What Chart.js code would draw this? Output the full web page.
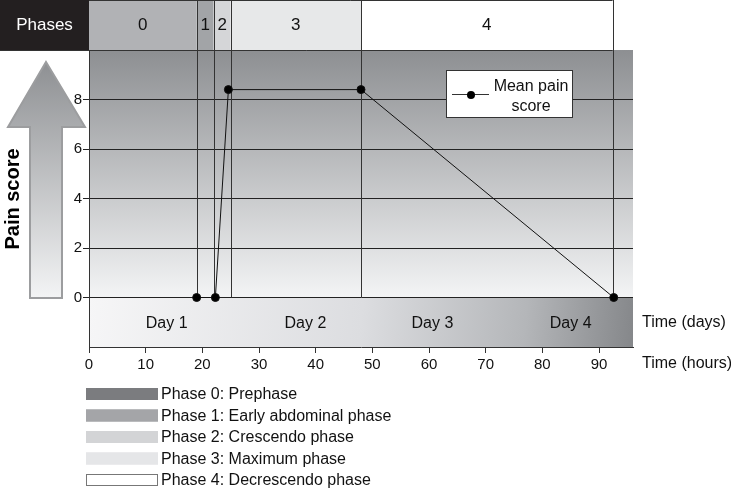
<!DOCTYPE html>
<html>
<head>
<meta charset="utf-8">
<script src="https://cdn.jsdelivr.net/npm/chart.js@4/dist/chart.umd.min.js"></script>
<style>
  html, body { margin: 0; padding: 0; background: #fff; }
  canvas { display: block; }
</style>
</head>
<body>
<canvas id="chartPain" width="731" height="490"></canvas>
<script>
// mean pain score over time (hours)
const horas = [19, 22.3, 24.6, 48, 92.6]
const dolor = [0, 0, 8.4, 8.4, 0]

// phase boundaries (hours) and names
const limitesFase = [0, 19, 22, 25, 48, 92.4]
const numerosFase = ['0', '1', '2', '3', '4']
const coloresFase = ['#b1b2b5', '#a2a4a7', '#d5d6d8', '#e7e8e9', '#ffffff']

const etiquetasDia = ['Day 1', 'Day 2', 'Day 3', 'Day 4']
const centrosDia = [13.7, 38.2, 60.6, 85]

const leyendaFases = [
    'Phase 0: Prephase',
    'Phase 1: Early abdominal phase',
    'Phase 2: Crescendo phase',
    'Phase 3: Maximum phase',
    'Phase 4: Decrescendo phase'
]
const coloresLeyenda = ['#7b7c7f', '#a4a5a8', '#d3d4d6', '#e5e6e8', '#ffffff']

const FUENTE = '"Liberation Sans", Arial, sans-serif'

const fondo = {
    id: 'fondo',
    beforeDraw(chart) {
        const ctx = chart.ctx
        const area = chart.chartArea
        const x = chart.scales.x
        const y = chart.scales.y
        const y0 = y.getPixelForValue(0)
        ctx.save()

        // main plot gradient
        let g = ctx.createLinearGradient(0, area.top, 0, y0)
        g.addColorStop(0, '#8d8f92')
        g.addColorStop(1, '#f3f4f5')
        ctx.fillStyle = g
        ctx.fillRect(area.left, area.top, area.right - area.left, y0 - area.top)

        // day band
        g = ctx.createLinearGradient(area.left, y0, area.right, area.bottom)
        g.addColorStop(0, '#f6f6f7')
        g.addColorStop(0.5, '#dcdde0')
        g.addColorStop(0.8, '#b4b6b9')
        g.addColorStop(1, '#85878a')
        ctx.fillStyle = g
        ctx.fillRect(area.left, y0, area.right - area.left, area.bottom - y0)

        ctx.fillStyle = '#111'
        ctx.font = '16px ' + FUENTE
        ctx.textAlign = 'center'
        ctx.textBaseline = 'middle'
        etiquetasDia.forEach((d, i) => {
            ctx.fillText(d, x.getPixelForValue(centrosDia[i]), (y0 + area.bottom) / 2 + 1)
        })

        // header
        ctx.fillStyle = '#231f20'
        ctx.fillRect(0, 0, area.left, area.top)
        ctx.fillStyle = '#fff'
        ctx.font = '17px ' + FUENTE
        ctx.fillText('Phases', area.left / 2, area.top / 2)
        for (let i = 0; i < numerosFase.length; i++) {
            const a = x.getPixelForValue(limitesFase[i])
            const b = x.getPixelForValue(limitesFase[i + 1])
            ctx.fillStyle = coloresFase[i]
            ctx.fillRect(a, 0, b - a, area.top)
            ctx.fillStyle = '#111'
            ctx.fillText(numerosFase[i], (a + b) / 2, area.top / 2)
        }
        ctx.strokeStyle = '#333'
        ctx.lineWidth = 1
        const xFin = x.getPixelForValue(limitesFase[limitesFase.length - 1])
        ctx.beginPath()
        ctx.moveTo(area.left, 0.5); ctx.lineTo(xFin, 0.5)
        ctx.moveTo(0, area.top + 0.5); ctx.lineTo(xFin, area.top + 0.5)
        ctx.stroke()

        // arrow
        g = ctx.createLinearGradient(0, 62, 0, 298)
        g.addColorStop(0, '#8e9093')
        g.addColorStop(1, '#f3f4f5')
        ctx.fillStyle = g
        ctx.strokeStyle = '#9c9d9f'
        ctx.lineWidth = 2
        ctx.beginPath()
        ctx.moveTo(46, 62)
        ctx.lineTo(85, 127)
        ctx.lineTo(62, 127)
        ctx.lineTo(62, 298)
        ctx.lineTo(30, 298)
        ctx.lineTo(30, 127)
        ctx.lineTo(8, 127)
        ctx.closePath()
        ctx.fill()
        ctx.stroke()

        ctx.save()
        ctx.translate(13, 199)
        ctx.rotate(-Math.PI / 2)
        ctx.fillStyle = '#000'
        ctx.font = 'bold 20px ' + FUENTE
        ctx.fillText('Pain score', 0, 0)
        ctx.restore()

        // axis titles on the right
        ctx.fillStyle = '#111'
        ctx.font = '16px ' + FUENTE
        ctx.textAlign = 'left'
        ctx.fillText('Time (days)', 642, 323)
        ctx.fillText('Time (hours)', 642, 364)

        // phase legend below
        leyendaFases.forEach((t, i) => {
            const yy = 394 + i * 21.5
            ctx.fillStyle = coloresLeyenda[i]
            ctx.fillRect(86, yy - 6, 72, 12)
            ctx.strokeStyle = i === 4 ? '#777' : coloresLeyenda[i]
            ctx.lineWidth = 1
            ctx.strokeRect(86.5, yy - 5.5, 71, 11)
            ctx.fillStyle = '#111'
            ctx.fillText(t, 161, yy + 1)
        })
        ctx.restore()
    },
    beforeDatasetsDraw(chart) {
        const ctx = chart.ctx
        const x = chart.scales.x
        const y0 = chart.scales.y.getPixelForValue(0)
        ctx.save()
        ctx.strokeStyle = '#333'
        ctx.lineWidth = 1
        ctx.beginPath()
        limitesFase.slice(1).forEach(h => {
            const px = Math.round(x.getPixelForValue(h)) + 0.5
            ctx.moveTo(px, 0)
            ctx.lineTo(px, y0)
        })
        ctx.stroke()
        ctx.restore()
    },
    afterDraw(chart) {
        const ctx = chart.ctx
        ctx.save()
        ctx.fillStyle = '#fff'
        ctx.strokeStyle = '#333'
        ctx.lineWidth = 1
        ctx.fillRect(446, 70, 127, 48)
        ctx.strokeRect(446.5, 70.5, 126, 47)
        ctx.beginPath()
        ctx.moveTo(452, 94.5); ctx.lineTo(489, 94.5)
        ctx.stroke()
        ctx.fillStyle = '#000'
        ctx.beginPath()
        ctx.arc(471, 95, 4, 0, Math.PI * 2)
        ctx.fill()
        ctx.fillStyle = '#111'
        ctx.font = '16px ' + FUENTE
        ctx.textAlign = 'center'
        ctx.textBaseline = 'middle'
        ctx.fillText('Mean pain', 531, 87)
        ctx.fillText('score', 531, 107)
        ctx.restore()
    }
}

const canvas = document.getElementById('chartPain')
const context = canvas.getContext('2d')

const chartDolor = new Chart(context, {
    type: 'line',
    data: {
        datasets: [
            {
                label: 'Mean pain score',
                data: horas.map((h, i) => ({ x: h, y: dolor[i] })),
                borderColor: '#111',
                borderWidth: 1,
                backgroundColor: '#000',
                pointRadius: 4,
                pointHoverRadius: 4,
                tension: 0
            }
        ]
    },
    options: {
        responsive: false,
        animation: false,
        events: [],
        layout: { padding: { left: 48, top: 50, right: 98, bottom: 0 } },
        plugins: { legend: { display: false }, tooltip: { enabled: false } },
        scales: {
            x: {
                type: 'linear',
                min: 0,
                max: 96,
                afterFit: s => { s.height = 143 },
                border: { color: '#333', width: 1 },
                grid: { drawOnChartArea: false, color: '#333', tickLength: 6 },
                ticks: {
                    stepSize: 10,
                    includeBounds: false,
                    padding: 3,
                    color: '#111',
                    font: { family: FUENTE, size: 15 },
                    maxRotation: 0
                }
            },
            y: {
                min: -2,
                max: 10,
                afterFit: s => { s.width = 41 },
                border: { color: '#333', width: 1 },
                grid: {
                    color: c => (c.tick && c.tick.value >= 0 && c.tick.value <= 8) ? '#222' : 'rgba(0,0,0,0)',
                    tickLength: 6
                },
                ticks: {
                    stepSize: 2,
                    padding: 1,
                    color: '#111',
                    font: { family: FUENTE, size: 15 },
                    callback: v => (v >= 0 && v <= 8) ? v : ''
                }
            }
        }
    },
    plugins: [fondo]
})
</script>
</body>
</html>
